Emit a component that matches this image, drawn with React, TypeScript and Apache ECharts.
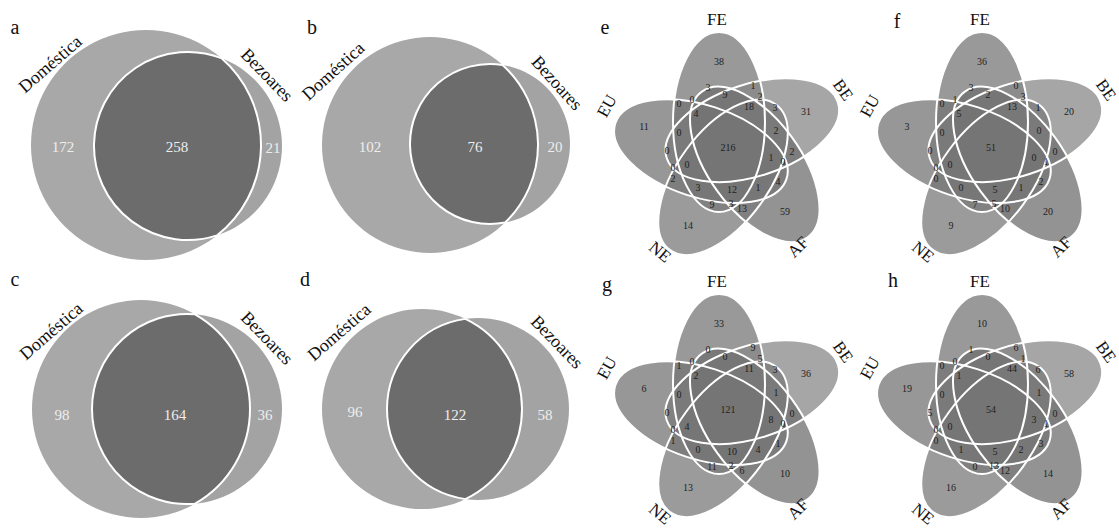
import React, { useEffect, useRef } from "react";
import * as echarts from "echarts";

// ---------- two-set panels (a-d) ----------
const twoSetNames = ["Doméstica", "Bezoares"];
const twoPanelLetters = ["a", "b", "c", "d"];
const onlyDomestica = [172, 102, 98, 96];
const sharedBoth = [258, 76, 164, 122];
const onlyBezoares = [21, 20, 36, 58];

// ---------- five-set panels (e-h) ----------
const fiveSetNames = ["FE", "BE", "AF", "NE", "EU"]; // clockwise from top
const fivePanelLetters = ["e", "f", "g", "h"];
// order: FE only, BE only, AF only, NE only, EU only, all five, then 25 inner regions
const valuesE = [38, 31, 59, 14, 11, 216, 3, 1, 9, 2, 18, 3, 0, 0, 4, 0, 2, 0, 2, 1, 0, 0, 0, 4, 2, 3, 12, 1, 9, 3, 13];
const valuesF = [36, 20, 20, 9, 3, 51, 3, 0, 2, 3, 13, 1, 0, 1, 5, 0, 0, 0, 0, 0, 1, 0, 0, 2, 0, 0, 5, 1, 7, 5, 10];
const valuesG = [33, 36, 10, 13, 6, 121, 0, 9, 0, 5, 11, 3, 1, 0, 2, 0, 1, 0, 0, 8, 0, 0, 4, 1, 1, 0, 10, 4, 11, 2, 6];
const valuesH = [10, 58, 14, 16, 19, 54, 1, 6, 0, 1, 44, 6, 0, 0, 1, 0, 1, 5, 0, 3, 1, 0, 0, 3, 0, 1, 5, 2, 0, 13, 12];
const fiveValues = [valuesE, valuesF, valuesG, valuesH];

// ---------- layout (not data) ----------
const SERIF = '"Liberation Serif", "Times New Roman", "DejaVu Serif", serif';
// circles: [cx, cy, r] for Doméstica and Bezoares
const twoGeom = [
  { d: [146, 145, 115], b: [188, 146, 94], nums: [[63, 147], [177, 147], [273, 148]], lab: [[50, 64], [267, 75]], letter: [15, 37], rot: [41, -46] },
  { d: [430, 145, 108], b: [490, 144, 80], nums: [[370, 147], [475, 147], [555, 147]], lab: [[333, 71], [557, 83]], letter: [312, 37], rot: [42, -48] },
  { d: [141, 409, 109], b: [187, 409, 95], nums: [[62, 415], [175, 415], [265, 415]], lab: [[51, 331], [267, 338]], letter: [15, 289], rot: [41, -46] },
  { d: [422, 409, 100], b: [478, 409, 91], nums: [[355, 412], [455, 415], [545, 415]], lab: [[339, 332], [557, 342]], letter: [305, 289], rot: [41, -46] },
];
const fiveCenters = [[730, 149], [993, 149], [730, 411], [993, 411]];
const fiveLetters = [[605, 37], [897, 31], [607, 294], [893, 290]];
const ELL_A = 90, ELL_B = 46, ELL_OFF = [-11, -27];
const ellFill = ["rgba(119,119,119,0.75)", "rgba(136,136,136,0.75)", "rgba(111,111,111,0.75)", "rgba(122,122,122,0.75)", "rgba(116,116,116,0.75)"];
// region label offsets relative to panel centre (same order as values)
const regionOffsets = [
  [-11, -88], [76, -38], [55, 62.5], [-42, 76.5], [-86, -22.5], [-2, -2],
  [-22, -62], [23, -64], [-5, -55], [30, -53], [19, -43], [45, -42], [-51, -46], [-38, -50], [-34, -36], [-51, -17],
  [46, -19], [-63, 1], [62, 2], [41, 8], [53, 12], [-57, 18], [-43, 15], [48, 32], [-57, 29], [-32, 38],
  [2, 40], [28, 38], [-18, 55], [1, 54], [12, 59],
];
// set label offsets and rotations (deg, ccw positive)
const setLabelPos = [[-13, -130, 0], [113, -59, -55], [68, 98, 45], [-70, 103, -40], [-123, -43, 61]];

function lensPath(c1: number[], c2: number[]) {
  const [x1, y1, r1] = c1;
  const [x2, y2, r2] = c2;
  const dx = x2 - x1, dy = y2 - y1, d = Math.hypot(dx, dy);
  const a = (r1 * r1 - r2 * r2 + d * d) / (2 * d);
  const h = Math.sqrt(r1 * r1 - a * a);
  const mx = x1 + (a * dx) / d, my = y1 + (a * dy) / d;
  const px = dy / d, py = -dx / d;
  const tx = mx + h * px, ty = my + h * py;
  const bx = mx - h * px, by = my - h * py;
  const large2 = a > d ? 1 : 0;
  return `M ${tx} ${ty} A ${r2} ${r2} 0 ${large2} 0 ${bx} ${by} A ${r1} ${r1} 0 0 0 ${tx} ${ty} Z`;
}

function txt(x: number, y: number, text: string, size: number, fill: string, rotDeg = 0, vAlign = "middle") {
  return {
    type: "text",
    x,
    y,
    rotation: (rotDeg * Math.PI) / 180,
    z: 10,
    style: {
      text,
      fill,
      fontSize: size,
      fontFamily: SERIF,
      align: "center",
      verticalAlign: vAlign,
      textAlign: "center",
      textVerticalAlign: vAlign,
    },
  };
}

export default function App() {
  const ref = useRef<HTMLDivElement>(null);
  useEffect(() => {
    document.body.style.margin = "0";
    const chart = echarts.init(ref.current!, null, { renderer: "svg" });
    const els: any[] = [];
    const texts: any[] = [];

    // two-set venns
    twoGeom.forEach((g, i) => {
      const name = "lens" + i;
      echarts.graphic.registerShape(name, echarts.graphic.extendPath(lensPath(g.d, g.b), {}) as any);
      els.push({ type: "circle", shape: { cx: g.d[0], cy: g.d[1], r: g.d[2] }, style: { fill: "#a8a8a8" } });
      els.push({ type: "circle", shape: { cx: g.b[0], cy: g.b[1], r: g.b[2] }, style: { fill: "#a3a3a3" } });
      els.push({ type: name, style: { fill: "#6c6c6c", stroke: "#ffffff", lineWidth: 2 } });
      const vals = [onlyDomestica[i], sharedBoth[i], onlyBezoares[i]];
      vals.forEach((v, k) => texts.push(txt(g.nums[k][0], g.nums[k][1], String(v), 15, "#eeeeee")));
      texts.push(txt(g.lab[0][0], g.lab[0][1], twoSetNames[0], 18, "#111", g.rot[0]));
      texts.push(txt(g.lab[1][0], g.lab[1][1], twoSetNames[1], 18, "#111", g.rot[1]));
      texts.push(txt(g.letter[0], g.letter[1], twoPanelLetters[i], 20, "#111", 0, "bottom"));
    });

    // five-set venns
    fiveCenters.forEach((c, p) => {
      const fills: any[] = [];
      const strokes: any[] = [];
      for (let k = 0; k < 5; k++) {
        const phi = (72 * k * Math.PI) / 180; // clockwise on screen
        const ox = ELL_OFF[0] * Math.cos(phi) - ELL_OFF[1] * Math.sin(phi);
        const oy = ELL_OFF[0] * Math.sin(phi) + ELL_OFF[1] * Math.cos(phi);
        const base = { type: "ellipse", x: c[0] + ox, y: c[1] + oy, rotation: -phi, shape: { cx: 0, cy: 0, rx: ELL_B, ry: ELL_A } };
        fills.push({ ...base, style: { fill: ellFill[k] } });
        strokes.push({ ...base, z: 2, style: { fill: "none", stroke: "#ffffff", lineWidth: 2 } });
        const sl = setLabelPos[k];
        texts.push(txt(c[0] + sl[0], c[1] + sl[1], fiveSetNames[k], 17, "#111", sl[2]));
      }
      els.push(...fills, ...strokes);
      fiveValues[p].forEach((v, r) => {
        const o = regionOffsets[r];
        texts.push(txt(c[0] + o[0], c[1] + o[1], String(v), 10, "#222"));
      });
      texts.push(txt(fiveLetters[p][0], fiveLetters[p][1], fivePanelLetters[p], 20, "#111", 0, "bottom"));
    });

    chart.setOption({ animation: false, backgroundColor: "#ffffff", graphic: { elements: [...els, ...texts] } });
    return () => chart.dispose();
  }, []);
  return <div ref={ref} style={{ width: 1119, height: 532 }} />;
}
